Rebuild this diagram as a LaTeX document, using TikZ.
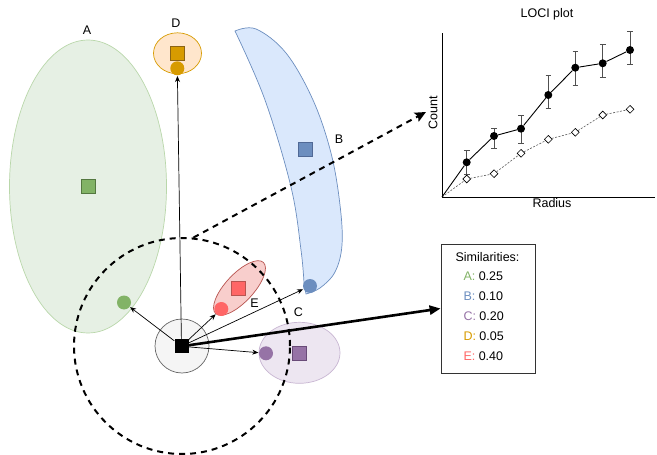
\documentclass[tikz,border=0pt]{standalone}
\usepackage{fontspec}
\setmainfont{Liberation Sans}
\usetikzlibrary{shapes.geometric,arrows.meta}

\definecolor{gFill}{RGB}{230,240,228}
\definecolor{gLine}{RGB}{185,215,170}
\definecolor{gMain}{RGB}{130,179,102}
\definecolor{gDark}{RGB}{84,120,64}
\definecolor{oFill}{RGB}{255,230,204}
\definecolor{oMain}{RGB}{215,155,0}
\definecolor{oDark}{RGB}{140,100,20}
\definecolor{bFill}{RGB}{218,232,252}
\definecolor{bMain}{RGB}{108,142,191}
\definecolor{bDark}{RGB}{80,105,150}
\definecolor{rFill}{RGB}{248,206,204}
\definecolor{rLine}{RGB}{184,84,80}
\definecolor{rMain}{RGB}{255,102,102}
\definecolor{pFill}{RGB}{237,230,241}
\definecolor{pLine}{RGB}{200,182,210}
\definecolor{pMain}{RGB}{150,115,166}
\definecolor{pDark}{RGB}{105,75,120}
\definecolor{cFill}{RGB}{245,245,245}
\definecolor{cLine}{RGB}{102,102,102}
\definecolor{barC}{RGB}{80,80,80}

\begin{document}
\begin{tikzpicture}[x=1pt,y=-1pt,
  font=\fontsize{12.5}{15}\selectfont,
  region/.style={ellipse, draw, line width=0.7pt, inner sep=0pt},
  sq/.style={rectangle, draw, minimum size=14pt, inner sep=0pt, line width=0.8pt},
  dot/.style={circle, minimum size=14pt, inner sep=0pt},
  ptr/.style={-{Stealth[length=6pt,width=5pt]}, line width=0.7pt, shorten >=0.5pt},
  bigdash/.style={line width=2pt, dash pattern=on 6pt off 5pt},
  pdot/.style={circle, fill=black, minimum size=8pt, inner sep=0pt},
  pdia/.style={diamond, draw, fill=white, line width=0.6pt, minimum size=8pt, inner sep=0pt},
  ebar/.style={draw=barC, line width=0.9pt},
  simline/.style={anchor=west, inner sep=0pt}]
\useasboundingbox (0,0) rectangle (657,455);

% cluster regions
\node[region, fill=gFill, draw=gLine, minimum width=157pt, minimum height=293pt] (regA) at (88,186.5) {};
\node[region, fill=oFill, draw=oMain, minimum width=48pt, minimum height=41pt] (regD) at (177.5,53.3) {};
\draw[fill=bFill, draw=bMain, line width=0.7pt]
  plot[smooth, tension=0.6] coordinates {(235,31) (256,29) (286,53) (313,100) (331,153) (340,205) (342,245) (335,272) (320,288) (306,294)}
  -- plot[smooth, tension=0.6] coordinates {(304,283) (301,250) (291,187) (265,100) (235,31)} -- cycle;
\node[region, fill=rFill, draw=rLine, minimum width=70pt, minimum height=28pt, rotate=47] (regE) at (239.5,288) {};
\node[region, fill=pFill, draw=pLine, minimum width=81pt, minimum height=61pt] (regC) at (299.5,352.8) {};

% cluster labels
\node (labA) at (87,30) {A};
\node (labD) at (176,23) {D};
\node (labB) at (339,139) {B};
\node (labE) at (254.5,303) {E};
\node (labC) at (298.5,312) {C};

% cluster centres and nearest members
\node[sq, fill=gMain, draw=gDark] (sqA) at (88,186.5) {};
\node[dot, fill=gMain] (ptA) at (124,302.5) {};
\node[sq, fill=oMain, draw=oDark] (sqD) at (177.7,53.7) {};
\node[dot, fill=oMain] (ptD) at (177.3,68.3) {};
\node[sq, fill=bMain, draw=bDark] (sqB) at (305.5,149) {};
\node[dot, fill=bMain] (ptB) at (310,286) {};
\node[sq, fill=rMain, draw=rLine] (sqE) at (238.7,288.3) {};
\node[dot, fill=rMain] (ptE) at (221.3,309) {};
\node[sq, fill=pMain, draw=pDark] (sqC) at (299.3,353.3) {};
\node[dot, fill=pMain] (ptC) at (266,353.3) {};

% query object
\node[circle, fill=cFill, draw=cLine, line width=0.7pt, minimum size=54pt, inner sep=0pt] (qring) at (182,346) {};
\node[circle, bigdash, draw, minimum size=216pt, inner sep=0pt] (range) at (182,346) {};
\node[rectangle, fill=black, minimum size=14pt, inner sep=0pt] (query) at (181.5,346.3) {};

% links to nearest members
\draw[ptr] (query) -- (ptA);
\draw[ptr] (query) -- (ptD);
\draw[ptr] (query) -- (ptE);
\draw[ptr] (query) -- (ptB);
\draw[ptr] (query) -- (ptC);

% similarities box
\node[draw=black!80, line width=0.8pt, minimum width=94pt, minimum height=129pt] (simbox) at (488,308.5) {};
\node (simtitle) at (487.5,257) {Similarities:};
\node[simline] (simA) at (463.3,276) {\textcolor{gMain}{A:} 0.25};
\node[simline] (simB) at (463.3,296) {\textcolor{bMain}{B:} 0.10};
\node[simline] (simC) at (463.3,316) {\textcolor{pMain}{C:} 0.20};
\node[simline] (simD) at (463.3,336) {\textcolor{oMain}{D:} 0.05};
\node[simline] (simE) at (463.3,356) {\textcolor{rMain}{E:} 0.40};
\draw[line width=2.6pt, -{Triangle[length=11pt,width=9pt]}] (query) -- (simbox.west);

% LOCI plot
\coordinate (plotin) at (426,112);
\draw[bigdash, -{Stealth[length=11pt,width=10pt,inset=2pt]}] (range.84) -- (plotin);
\node (ptitle) at (547,14) {LOCI plot};
\node[rotate=90] (ylab) at (433,113) {Count};
\node (xlab) at (552,203) {Radius};
\coordinate (orig) at (442,197);
\draw[line width=1pt] (442,33) -- (orig) -- (655,197);
\foreach \i/\x/\y/\t/\b in {1/466.7/162.3/150/174, 2/494/136/128.3/148.3, 3/521/128.7/115.7/143.3,
    4/548.3/95/75.7/108.7, 5/575.3/67.7/51.7/85, 6/602.7/63.3/44/77.7, 7/630/50/31/64.3} {
  \draw[ebar] (\x,\t) -- (\x,\b) (\x-2.8,\t) -- (\x+2.8,\t) (\x-2.8,\b) -- (\x+2.8,\b);
}
\foreach \i/\x/\y in {1/466.7/179, 2/494/173.7, 3/521/153.3, 4/548.3/139.3, 5/575.3/132.3, 6/602.7/115, 7/630/109.3}
  \node[pdia] (q\i) at (\x,\y) {};
\draw[gray!70!black, line width=0.6pt, dash pattern=on 2pt off 1.5pt]
  (orig) -- (q1) -- (q2) -- (q3) -- (q4) -- (q5) -- (q6) -- (q7);
\foreach \i/\x/\y in {1/466.7/162.3, 2/494/136, 3/521/128.7, 4/548.3/95, 5/575.3/67.7, 6/602.7/63.3, 7/630/50}
  \node[pdot] (p\i) at (\x,\y) {};
\draw[line width=0.9pt] (orig) -- (p1) -- (p2) -- (p3) -- (p4) -- (p5) -- (p6) -- (p7);
\end{tikzpicture}
\end{document}
